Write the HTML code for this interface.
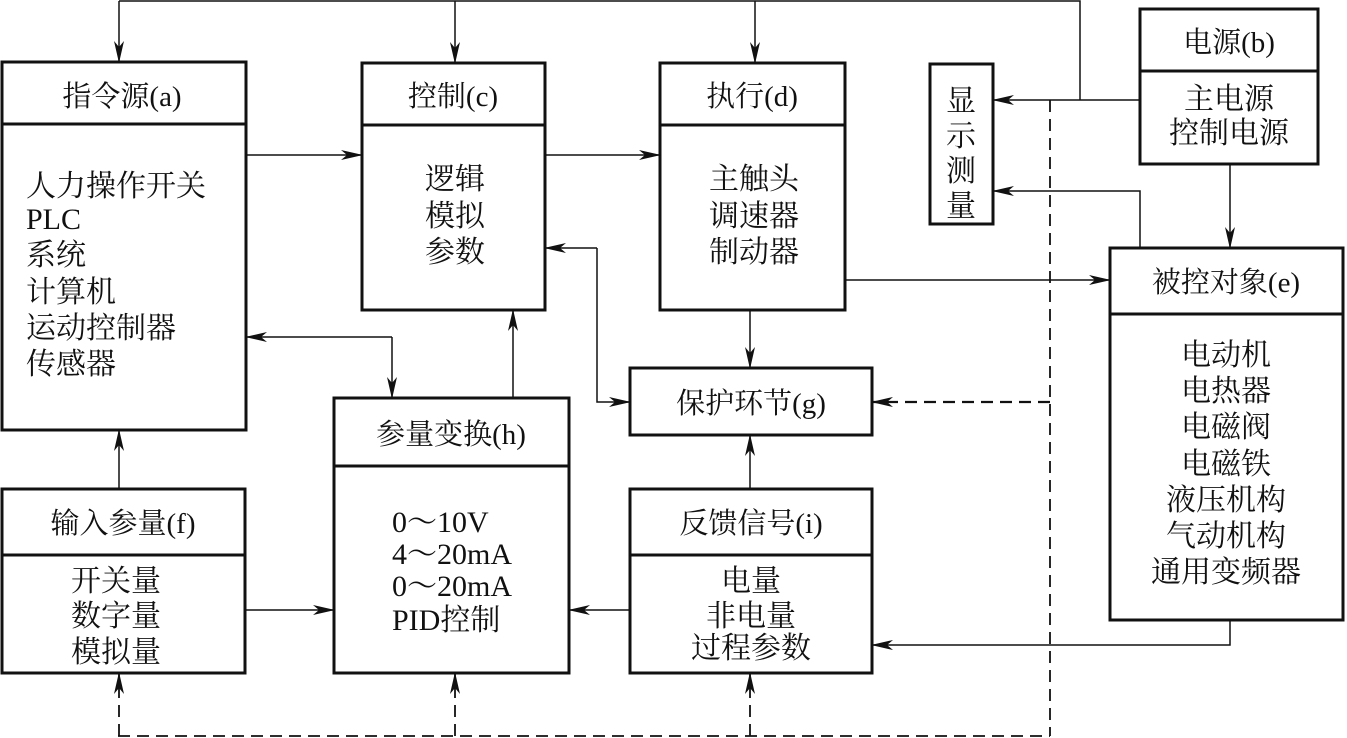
<!DOCTYPE html>
<html><head><meta charset="utf-8"><style>
html,body{margin:0;padding:0;background:#fff;}
svg{display:block;}
text{font-family:"Liberation Serif","Noto Serif CJK SC","Noto Sans CJK SC",serif;fill:#111;}
.h{font-size:29px;text-anchor:middle;}
.b{font-size:30px;}
.c{text-anchor:middle;}
</style></head><body>
<svg width="1347" height="738" viewBox="0 0 1347 738" xmlns="http://www.w3.org/2000/svg">
<defs>
<marker id="ar" markerWidth="22" markerHeight="10" refX="21" refY="5" orient="auto" markerUnits="userSpaceOnUse">
<path d="M0,0 L22,5 L0,10 L6,5 Z" fill="#111"/>
</marker>
</defs>
<g fill="none" stroke="#111" stroke-width="3">
<rect x="2" y="62" width="244" height="368"/><line x1="2" y1="124" x2="246" y2="124"/>
<rect x="362" y="63" width="183" height="247"/><line x1="362" y1="125" x2="545" y2="125"/>
<rect x="660" y="63" width="185" height="247"/><line x1="660" y1="125" x2="845" y2="125"/>
<rect x="930" y="64" width="63" height="160"/>
<rect x="1140" y="9" width="178" height="155"/><line x1="1140" y1="71" x2="1318" y2="71"/>
<rect x="1110" y="248" width="233" height="372"/><line x1="1110" y1="314" x2="1343" y2="314"/>
<rect x="630" y="368" width="242" height="67"/>
<rect x="334" y="398" width="235" height="275"/><line x1="334" y1="466" x2="569" y2="466"/>
<rect x="2" y="489" width="243" height="184"/><line x1="2" y1="555" x2="245" y2="555"/>
<rect x="630" y="489" width="242" height="184"/><line x1="630" y1="555" x2="872" y2="555"/>
</g>
<g fill="none" stroke="#111" stroke-width="1.5">
<polyline points="119,1 1080,1 1080,100"/>
<line x1="119" y1="1" x2="119" y2="62" marker-end="url(#ar)"/>
<line x1="455" y1="1" x2="455" y2="63" marker-end="url(#ar)"/>
<line x1="755" y1="1" x2="755" y2="63" marker-end="url(#ar)"/>
<line x1="1140" y1="100" x2="993" y2="100" marker-end="url(#ar)"/>
<line x1="246" y1="155" x2="362" y2="155" marker-end="url(#ar)"/>
<line x1="545" y1="155" x2="660" y2="155" marker-end="url(#ar)"/>
<line x1="845" y1="280" x2="1110" y2="280" marker-end="url(#ar)"/>
<line x1="750" y1="310" x2="750" y2="368" marker-end="url(#ar)"/>
<line x1="513" y1="398" x2="513" y2="310" marker-end="url(#ar)"/>
<polyline points="597,248 597,402 630,402" marker-end="url(#ar)"/>
<line x1="597" y1="248" x2="545" y2="248" marker-end="url(#ar)"/>
<polyline points="392,337 392,398" marker-end="url(#ar)"/>
<line x1="392" y1="337" x2="246" y2="337" marker-end="url(#ar)"/>
<polyline points="1140,248 1140,191 993,191" marker-end="url(#ar)"/>
<line x1="1230" y1="164" x2="1230" y2="248" marker-end="url(#ar)"/>
<line x1="119" y1="489" x2="119" y2="430" marker-end="url(#ar)"/>
<line x1="750" y1="489" x2="750" y2="435" marker-end="url(#ar)"/>
<line x1="245" y1="610" x2="334" y2="610" marker-end="url(#ar)"/>
<line x1="630" y1="610" x2="569" y2="610" marker-end="url(#ar)"/>
<polyline points="1230,620 1230,645 872,645" marker-end="url(#ar)"/>
</g>
<g fill="none" stroke="#111" stroke-width="1.8" stroke-dasharray="12,7">
<line x1="1050" y1="100" x2="1050" y2="736"/>
<line x1="118" y1="736" x2="1050" y2="736"/>
<line x1="1050" y1="402" x2="872" y2="402" marker-end="url(#ar)" stroke-width="2.2"/>
<line x1="119" y1="736" x2="119" y2="673" marker-end="url(#ar)"/>
<line x1="455" y1="736" x2="455" y2="673" marker-end="url(#ar)"/>
<line x1="750" y1="736" x2="750" y2="673" marker-end="url(#ar)"/>
</g>
<text class="h" x="122" y="106">指令源(a)</text>
<text class="h" x="453" y="106">控制(c)</text>
<text class="h" x="752" y="106">执行(d)</text>
<text class="h" x="1229" y="52">电源(b)</text>
<text class="h" x="1226" y="292">被控对象(e)</text>
<text class="h" x="751" y="413">保护环节(g)</text>
<text class="h" x="451" y="444">参量变换(h)</text>
<text class="h" x="123" y="533">输入参量(f)</text>
<text class="h" x="751" y="533">反馈信号(i)</text>
<g class="b">
<text x="26" y="196">人力操作开关</text>
<text x="26" y="229">PLC</text>
<text x="26" y="265">系统</text>
<text x="26" y="302">计算机</text>
<text x="26" y="338">运动控制器</text>
<text x="26" y="374">传感器</text>
<text class="c" x="455" y="189">逻辑</text>
<text class="c" x="455" y="226">模拟</text>
<text class="c" x="455" y="262">参数</text>
<text class="c" x="754" y="189">主触头</text>
<text class="c" x="754" y="226">调速器</text>
<text class="c" x="754" y="262">制动器</text>
<text class="c" x="961" y="111">显</text>
<text class="c" x="961" y="146">示</text>
<text class="c" x="961" y="181">测</text>
<text class="c" x="961" y="216">量</text>
<text class="c" x="1229" y="109">主电源</text>
<text class="c" x="1229" y="143">控制电源</text>
<text class="c" x="1226" y="365">电动机</text>
<text class="c" x="1226" y="401">电热器</text>
<text class="c" x="1226" y="437">电磁阀</text>
<text class="c" x="1226" y="474">电磁铁</text>
<text class="c" x="1226" y="510">液压机构</text>
<text class="c" x="1226" y="546">气动机构</text>
<text class="c" x="1226" y="582">通用变频器</text>
<text x="392" y="532">0～10V</text>
<text x="392" y="564">4～20mA</text>
<text x="392" y="596">0～20mA</text>
<text x="392" y="630">PID控制</text>
<text class="c" x="116" y="591">开关量</text>
<text class="c" x="116" y="626">数字量</text>
<text class="c" x="116" y="662">模拟量</text>
<text class="c" x="751" y="591">电量</text>
<text class="c" x="751" y="626">非电量</text>
<text class="c" x="751" y="658">过程参数</text>
</g>
</svg>
</body></html>
